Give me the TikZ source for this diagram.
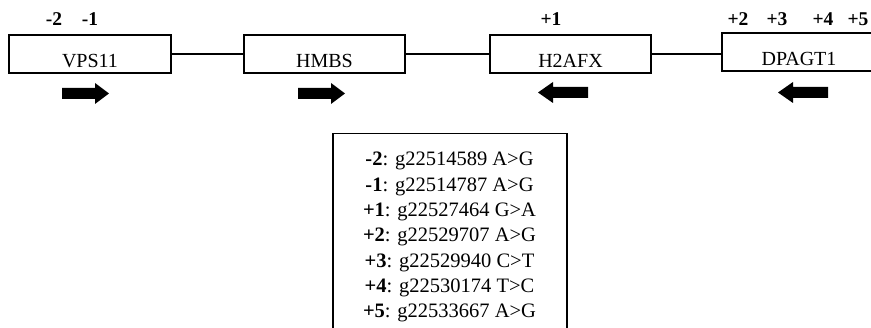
\documentclass[tikz,border=0pt]{standalone}
\usepackage{fontspec}
\setmainfont{Liberation Serif}
\begin{document}
\begin{tikzpicture}[x=1pt,y=-1pt,
  genebox/.style={draw,line width=1.2pt,rectangle,inner xsep=0pt,inner ysep=0pt,
    minimum height=38pt,text height=28pt,text depth=0pt,font=\fontsize{20}{24}\selectfont},
  poslabel/.style={anchor=base,inner sep=0pt,font=\fontsize{19.5}{24}\selectfont\bfseries},
  snpline/.style={anchor=base,inner sep=0pt,font=\fontsize{20.5}{25}\selectfont},
  link/.style={line width=1.2pt},
  pics/rarrow/.style={code={\fill (-23.5,-5.5) -- (9.5,-5.5) -- (9.5,-10.5) -- (23.5,0) -- (9.5,10.5) -- (9.5,5.5) -- (-23.5,5.5) -- cycle;}},
  pics/larrow/.style={code={\fill (25,-5.5) -- (-10,-5.5) -- (-10,-10.5) -- (-25,0) -- (-10,10.5) -- (-10,5.5) -- (25,5.5) -- cycle;}}
]
\useasboundingbox (0,0) rectangle (871,328);
\clip (0,0) rectangle (871,328);

% gene boxes
\node[genebox,minimum width=162pt] (VPS11) at (90,54) {VPS11};
\node[genebox,minimum width=161pt] (HMBS) at (324.5,54) {HMBS};
\node[genebox,minimum width=161pt] (H2AFX) at (570.5,54) {H2AFX};
\node[genebox,minimum width=154pt] (DPAGT1) at (799,52) {DPAGT1};

% connectors
\draw[link] (VPS11.east) -- (HMBS.west);
\draw[link] (HMBS.east) -- (H2AFX.west);
\draw[link] (H2AFX.east) -- (H2AFX.east -| DPAGT1.west);

% position labels
\node[poslabel] (pm2) at (54,26) {-2};
\node[poslabel] (pm1) at (90,26) {-1};
\node[poslabel] (pp1) at (551,26) {+1};
\node[poslabel] (pp2) at (738,26) {+2};
\node[poslabel] (pp3) at (777,26) {+3};
\node[poslabel] (pp4) at (823,26) {+4};
\node[poslabel] (pp5) at (858,26) {+5};

% direction arrows
\pic at (85.5,93.5) {rarrow};
\pic at (321.5,93.5) {rarrow};
\pic at (563,92.5) {larrow};
\pic at (803,92.5) {larrow};

% SNP box
\node[draw,line width=1.2pt,minimum width=234pt,minimum height=210pt,anchor=north,inner sep=0pt] (snpbox) at (450,133) {};
\node[snpline] (s1) at (449.5,166) {\textbf{-2}: g22514589 A>G};
\node[snpline] (s2) at (449.5,191.3) {\textbf{-1}: g22514787 A>G};
\node[snpline] (s3) at (449.5,216.7) {\textbf{+1}: g22527464 G>A};
\node[snpline] (s4) at (449.5,242) {\textbf{+2}: g22529707 A>G};
\node[snpline] (s5) at (449.5,267.3) {\textbf{+3}: g22529940 C>T};
\node[snpline] (s6) at (449.5,292.7) {\textbf{+4}: g22530174 T>C};
\node[snpline] (s7) at (449.5,318) {\textbf{+5}: g22533667 A>G};
\end{tikzpicture}
\end{document}
